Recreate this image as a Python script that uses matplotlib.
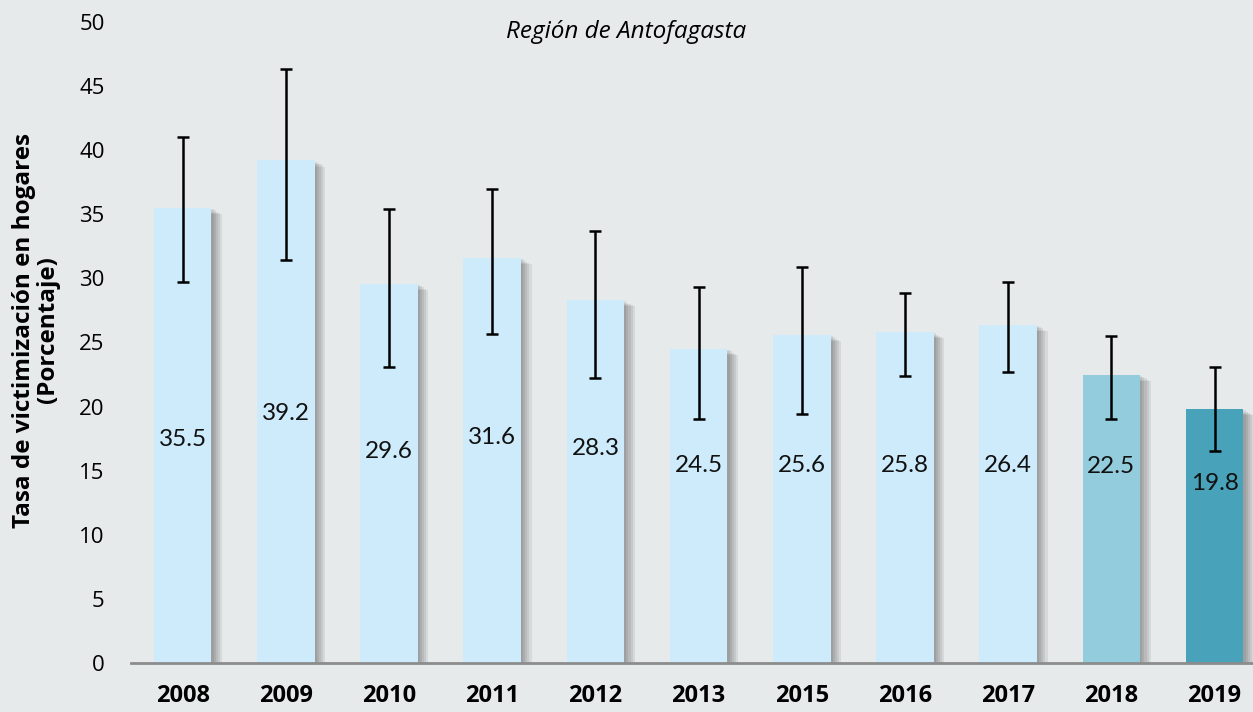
import matplotlib
matplotlib.use("Agg")
import matplotlib.pyplot as plt
import matplotlib.patheffects as pe
import numpy as np

years = ["2008", "2009", "2010", "2011", "2012", "2013", "2015", "2016", "2017", "2018", "2019"]
values = [35.5, 39.2, 29.6, 31.6, 28.3, 24.5, 25.6, 25.8, 26.4, 22.5, 19.8]
upper = [41.0, 46.3, 35.4, 37.0, 33.7, 29.3, 30.9, 28.9, 29.7, 25.5, 23.1]
lower = [29.7, 31.4, 23.1, 25.7, 22.2, 19.0, 19.4, 22.4, 22.7, 19.0, 16.5]
label_y = [17.4, 19.5, 16.5, 17.6, 16.7, 15.4, 15.4, 15.4, 15.4, 15.3, 14.0]
yticks = [0, 5, 10, 15, 20, 25, 30, 35, 40, 45, 50]

bg = "#E7EAEB"
colors = ["#CDEBFB"] * 9 + ["#93CDDD", "#48A2B9"]

fig = plt.figure(figsize=(12.53, 7.12), dpi=100, facecolor=bg)
ax = fig.add_axes([131 / 1253, 49 / 712, 1 - 131 / 1253, 641 / 712])
ax.set_facecolor(bg)

x = np.arange(len(years))
shadow = [pe.SimplePatchShadow(offset=(k, -k * 0.6), shadow_rgbFace="black", alpha=0.07)
          for k in (1.5, 3, 4.5, 6, 7.5)] + [pe.Normal()]
bars = ax.bar(x, values, width=0.56, color=colors, zorder=2)
for b in bars:
    b.set_path_effects(shadow)

vals = np.array(values)
yerr = np.vstack([vals - np.array(lower), np.array(upper) - vals])
ax.errorbar(x, vals, yerr=yerr, fmt="none", ecolor="black", elinewidth=1.8,
            capsize=4.5, capthick=1.8, zorder=4)

for xi, v, ly in zip(x, values, label_y):
    ax.text(xi, ly, f"{v:.1f}", ha="center", va="center", fontsize=17.5,
            family="Lato", color="#111111", zorder=5)

ax.set_xlim(-0.5, (1253 - 131) / 103.2 - 0.5)
ax.set_ylim(0, 50)
ax.set_yticks(yticks)
ax.set_yticklabels([str(t) for t in yticks], fontsize=16, family="Open Sans")
ax.set_xticks(x)
ax.set_xticklabels(years, fontsize=17, family="Open Sans", fontweight="bold")
ax.tick_params(axis="both", length=0)
ax.tick_params(axis="y", pad=19)
ax.tick_params(axis="x", pad=15)
for s in ["top", "right", "left"]:
    ax.spines[s].set_visible(False)
ax.spines["bottom"].set_color("#8C8C8C")
ax.spines["bottom"].set_linewidth(2)
ax.spines["bottom"].set_zorder(3)

fig.text(36 / 1253, 1 - 330 / 712, "Tasa de victimización en hogares\n(Porcentaje)",
         rotation=90, ha="center", va="center", fontsize=17.5, fontweight="bold",
         family="Open Sans", linespacing=1.0)
fig.text(0.5, 1 - 32 / 712, "Región de Antofagasta", ha="center", va="center",
         fontsize=17.5, style="italic", family="Open Sans")

fig.savefig("out.png", dpi=100, facecolor=bg)
